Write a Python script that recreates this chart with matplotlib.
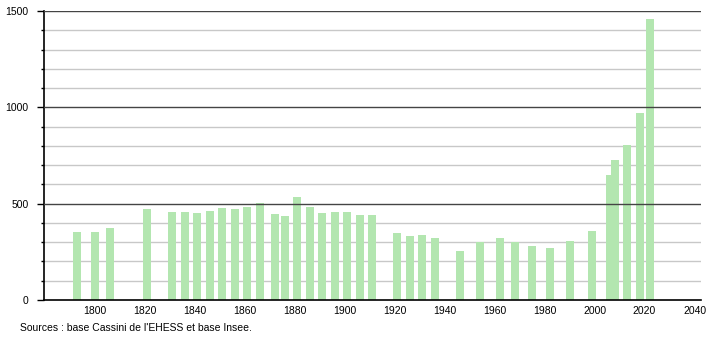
import matplotlib.pyplot as plt
from matplotlib.ticker import MultipleLocator

plt.rcParams['font.family'] = ['Liberation Sans', 'DejaVu Sans']

# Population data
years = [1793, 1800, 1806, 1821, 1831, 1836, 1841, 1846, 1851, 1856,
         1861, 1866, 1872, 1876, 1881, 1886, 1891, 1896, 1901, 1906,
         1911, 1921, 1926, 1931, 1936, 1946, 1954, 1962, 1968, 1975,
         1982, 1990, 1999, 2006, 2008, 2013, 2018, 2022]
population = [354, 355, 375, 471, 457, 457, 450, 463, 477, 471,
              483, 502, 447, 437, 534, 482, 451, 457, 457, 439,
              442, 349, 333, 337, 321, 254, 299, 321, 299, 278,
              271, 307, 359, 651, 729, 803, 970, 1459]

source_text = "Sources : base Cassini de l'EHESS et base Insee."

fig = plt.figure(figsize=(7.1, 3.4), dpi=100)
ax = fig.add_axes([0.062, 0.1176, 0.925, 0.85])

ax.bar(years, population, width=3.2, color='#b3e6b0', zorder=2)

ax.set_xlim(1779.7, 2042.5)
ax.set_ylim(0, 1500)

ax.yaxis.set_major_locator(MultipleLocator(500))
ax.yaxis.set_minor_locator(MultipleLocator(100))
ax.set_xticks(range(1800, 2041, 20))

# light minor lines behind the bars, dark major lines on top
for v in ax.yaxis.get_minorticklocs():
    if 0 < v < 1500 and v % 500:
        ax.axhline(v, color='#c8c8c8', linewidth=1, zorder=1)
for v in ax.yaxis.get_majorticklocs():
    if 0 < v <= 1500:
        ax.axhline(v, color='#444444', linewidth=1, zorder=3)

for s in ['top', 'right']:
    ax.spines[s].set_visible(False)
ax.spines['left'].set_linewidth(1.2)
ax.spines['bottom'].set_linewidth(1.2)

ax.tick_params(axis='y', which='major', length=5, width=1, labelsize=7.5, pad=6)
ax.tick_params(axis='y', which='minor', length=2, width=1)
ax.tick_params(axis='x', which='major', length=0, labelsize=7.5, pad=4)
ax.tick_params(axis='x', which='minor', length=0)

fig.text(20 / 710, 1 - 328 / 340, source_text, fontsize=7.5, va='center', ha='left')

fig.savefig('out.png', dpi=100)
